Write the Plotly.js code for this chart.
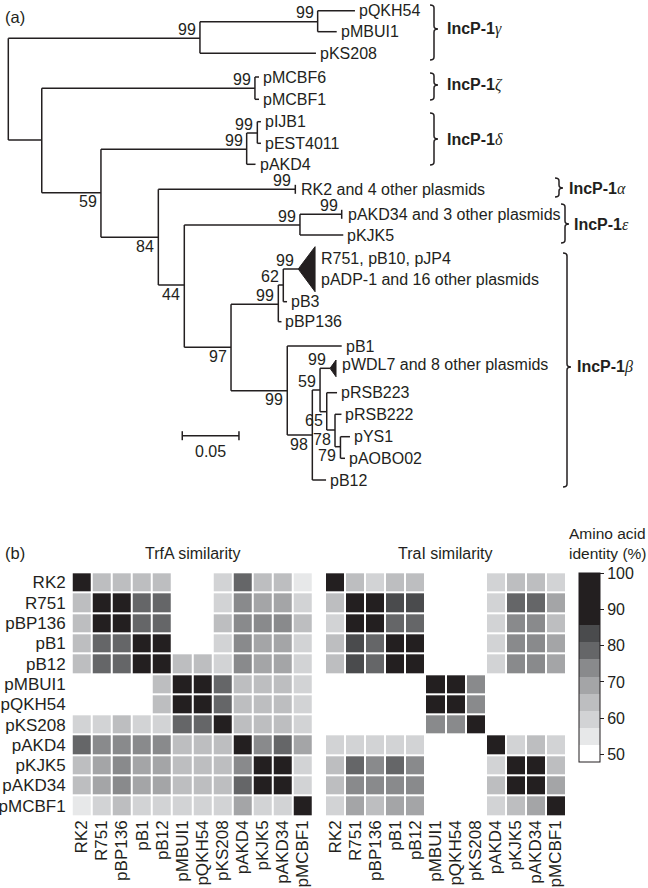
<!DOCTYPE html>
<html><head><meta charset="utf-8">
<script src="https://cdn.plot.ly/plotly-3.0.1.min.js"></script>
<style>body{margin:0;background:#fff}</style></head>
<body><div id="chart" style="width:648px;height:888px"></div>
<script>
// ---------------- DATA ----------------
// (a) tree: node id, parent, depth (substitutions/site from root), vertical row position
const treeNode   = ['root','g','g1','pQKH54','pMBUI1','pKS208','a','z','pMCBF6','pMCBF1','b','d','d1','pIJB1','pEST4011','pAKD4','c','RK2','e0','eps','pAKD34','pKJK5','e1','f','f62','tri1','pB3','pBP136','gB','pB1','h','i','tri2','j','pRSB223','k','pRSB222','l','pYS1','pAOBO02','pB12'];
const treeParent = [null,'root','g','g1','g1','g','root','a','z','z','a','b','d','d1','d1','d','b','c','c','e0','eps','eps','e0','e1','f','f62','f62','f','e1','gB','gB','h','i','i','j','j','k','k','l','l','h'];
const treeDepth  = [0,0.1690,0.2728,0.3057,0.2896,0.2713,0.0295,0.2175,0.2211,0.2211,0.0817,0.2102,0.2196,0.2228,0.2228,0.2180,0.1323,0.2531,0.1552,0.2572,0.2940,0.2954,0.1964,0.2381,0.2425,0.2557,0.2458,0.2409,0.2460,0.2940,0.2681,0.2749,0.2837,0.2808,0.2899,0.2881,0.2938,0.2929,0.3013,0.2969,0.2802];
const treeY      = [89,38.3,21.7,10.7,31.7,53.3,140,88.3,77,99.3,192.7,149.3,133,121.7,143.3,164.3,237.3,189.3,285,225,214.3,235,347.3,304.3,285,269,301.7,321.7,390.7,346,435,390,368.3,411.7,392.7,430,414.3,446.7,436.7,458.3,480];
// collapsed clades (triangles)
const triNode      = ['tri1','tri2'];
const triBaseDepth = [0.2705,0.2890];
const triTopY      = [246.7,360];
const triBottomY   = [291.7,376.7];
const triLabel     = ['R751, pB10, pJP4<br>pADP-1 and 16 other plasmids','pWDL7 and 8 other plasmids'];
// tips carrying a small bar (identical sequences)
const barTips = ['RK2','pAKD34'];
// leaf labels
const leafNode  = ['pQKH54','pMBUI1','pKS208','pMCBF6','pMCBF1','pIJB1','pEST4011','pAKD4','RK2','pAKD34','pKJK5','pB3','pBP136','pB1','pRSB223','pRSB222','pYS1','pAOBO02','pB12'];
const leafText  = ['pQKH54','pMBUI1','pKS208','pMCBF6','pMCBF1','pIJB1','pEST4011','pAKD4','RK2 and 4 other plasmids','pAKD34 and 3 other plasmids','pKJK5','pB3','pBP136','pB1','pRSB223','pRSB222','pYS1','pAOBO02','pB12'];
// bootstrap support
const bootNode  = ['g','g1','z','d','d1','b','c','RK2','e0','eps','pAKD34','e1','f','f62','tri1','gB','h','i','tri2','j','k','l'];
const bootValue = [99,99,99,99,99,59,84,99,44,99,99,97,99,62,99,99,98,59,99,65,78,79];
const bootSide  = ['up','up','up','up','up','down','down','up','down','up','up','down','up','up','up','down','down','up','up','down','down','down'];
// scale bar
const scaleBarStart = 0.1534, scaleBarLength = 0.05, scaleBarY = 435.7;
// clade brackets
const cladeName  = ['γ','ζ','δ','α','ε','β'];
const cladeTopY  = [5,73,113,178,204,253];
const cladeBotY  = [60,100,165,197,243,487];
const cladeTipY  = [29,85,139,188,224,367];

// (b) amino acid identity (%) matrices
const plasmids = ['RK2','R751','pBP136','pB1','pB12','pMBUI1','pQKH54','pKS208','pAKD4','pKJK5','pAKD34','pMCBF1'];
const trfA = [
 [95,65,65,65,65,null,null,60,78,65,65,55],
 [65,95,95,78,78,null,null,60,74,69,69,60],
 [65,95,95,78,78,null,null,65,74,74,74,65],
 [65,78,78,95,95,null,null,60,74,69,69,60],
 [65,78,78,95,95,65,65,60,74,69,69,60],
 [null,null,null,null,65,95,95,78,65,65,65,60],
 [null,null,null,null,65,95,95,78,65,65,65,60],
 [60,60,65,60,60,78,78,95,65,65,65,60],
 [78,74,74,74,74,65,65,65,95,74,78,69],
 [65,69,74,69,69,65,65,65,74,95,95,60],
 [65,69,74,69,69,65,65,65,78,95,95,60],
 [55,60,65,60,60,60,60,60,69,60,60,95]
];
const traI = [
 [95,65,60,65,65,null,null,null,60,65,65,60],
 [65,95,95,83,83,null,null,null,60,78,78,69],
 [60,95,95,78,78,null,null,null,60,74,74,65],
 [65,83,78,95,95,null,null,null,60,74,74,69],
 [65,83,78,95,95,null,null,null,60,74,74,69],
 [null,null,null,null,null,95,95,74,null,null,null,null],
 [null,null,null,null,null,95,95,74,null,null,null,null],
 [null,null,null,null,null,74,74,95,null,null,null,null],
 [60,60,60,60,60,null,null,null,95,60,65,60],
 [65,78,74,78,74,null,null,null,60,95,95,65],
 [65,74,74,74,74,null,null,null,65,95,95,69],
 [60,69,65,69,69,null,null,null,60,65,69,95]
];
const bandEdges  = [47.8,52.5,57.3,62.0,66.7,71.4,76.2,80.9,85.6,100];
const bandColors = ['#ffffff','#e7e8e9','#d2d3d5','#bdbec0','#a4a5a7','#898a8c','#656668','#4a4b4d','#231f20'];
const cbTicks = [50,60,70,80,90,100];

// ---------------- DRAWING ----------------
const TXT = '#231f20';
const FONT = 'Liberation Sans, Arial, Helvetica, sans-serif';
const W = 648, H = 888;
const PXU = 1134, ROOT_PX = 8.3;           // tree x scale (px per substitution)
const px2d = p => (p - ROOT_PX) / PXU;
const fx = p => p / W, fy = p => 1 - p / H;

const idx = {}; treeNode.forEach((n, i) => idx[n] = i);
const kids = {}; treeNode.forEach((n, i) => { const p = treeParent[i]; if (p !== null) (kids[p] = kids[p] || []).push(i); });

const lx = [], ly = [];
treeNode.forEach((n, i) => {
  const p = treeParent[i];
  if (p === null) return;
  lx.push(treeDepth[idx[p]], treeDepth[i], null); ly.push(treeY[i], treeY[i], null);
});
Object.keys(kids).forEach(p => {
  const ys = kids[p].map(k => treeY[k]);
  const d = treeDepth[idx[p]];
  lx.push(d, d, null); ly.push(Math.min(...ys), Math.max(...ys), null);
});
barTips.forEach(n => { const i = idx[n]; lx.push(treeDepth[i], treeDepth[i], null); ly.push(treeY[i] - 4.5, treeY[i] + 4.5, null); });

const traces = [];
traces.push({type:'scatter', mode:'lines', x:lx, y:ly, xaxis:'x', yaxis:'y', line:{color:TXT, width:1.5}, hoverinfo:'skip'});
triNode.forEach((n, t) => {
  const i = idx[n];
  traces.push({type:'scatter', mode:'lines', xaxis:'x', yaxis:'y', fill:'toself', fillcolor:TXT,
    x:[treeDepth[i], triBaseDepth[t], triBaseDepth[t], treeDepth[i]],
    y:[treeY[i], triTopY[t], triBottomY[t], treeY[i]], line:{color:TXT, width:1}, hoverinfo:'skip'});
});
traces.push({type:'scatter', mode:'lines', xaxis:'x', yaxis:'y', line:{color:TXT, width:1.5}, hoverinfo:'skip',
  x:[scaleBarStart, scaleBarStart+scaleBarLength, null, scaleBarStart, scaleBarStart, null, scaleBarStart+scaleBarLength, scaleBarStart+scaleBarLength],
  y:[scaleBarY, scaleBarY, null, scaleBarY-4.5, scaleBarY+4.5, null, scaleBarY-4.5, scaleBarY+4.5]});

// heatmaps
const cs = [];
const zr = bandEdges[bandEdges.length-1] - bandEdges[0];
bandColors.forEach((c, k) => {
  cs.push([(bandEdges[k]-bandEdges[0])/zr, c]);
  cs.push([(bandEdges[k+1]-bandEdges[0])/zr, c]);
});
traces.push({type:'heatmap', x:plasmids, y:plasmids, z:trfA, coloraxis:'coloraxis', xgap:2, ygap:2, xaxis:'x2', yaxis:'y2', hoverongaps:false});
traces.push({type:'heatmap', x:plasmids, y:plasmids, z:traI, coloraxis:'coloraxis', xgap:2, ygap:2, xaxis:'x3', yaxis:'y2', hoverongaps:false});

// annotations
const ann = [];
const tf = (s) => ({family:FONT, size:s, color:TXT});
leafNode.forEach((n, k) => {
  const i = idx[n];
  ann.push({xref:'x', yref:'y', x:treeDepth[i], y:treeY[i], text:leafText[k], showarrow:false,
    xanchor:'left', yanchor:'middle', xshift: barTips.includes(n) ? 4 : 2, font:tf(16)});
});
triNode.forEach((n, t) => {
  const i = idx[n];
  ann.push({xref:'x', yref:'y', x:triBaseDepth[t], y:(triTopY[t]+triBottomY[t])/2, text:triLabel[t], showarrow:false,
    xanchor:'left', yanchor:'middle', align:'left', xshift:4, yshift: t===0 ? 0 : 4, font:tf(16)});
});
bootNode.forEach((n, k) => {
  const i = idx[n];
  ann.push({xref:'x', yref:'y', x:treeDepth[i], y:treeY[i], text:String(bootValue[k]), showarrow:false,
    xanchor:'right', yanchor:'middle', xshift:-2, yshift: bootSide[k]==='up' ? 9 : -9, font:tf(16)});
});
ann.push({xref:'x', yref:'y', x:scaleBarStart+scaleBarLength/2, y:scaleBarY, yshift:-16, text:'0.05', showarrow:false, font:tf(16)});

// brackets
const shapes = [];
const bracketX = [430,430,430,555,561,563];
const labelShift = [7,7,7,4,3,4];
cladeName.forEach((g, k) => {
  const x0 = bracketX[k], x1 = x0 + 4, xt = x0 + 8, r = 3;
  const y0 = cladeTopY[k], y1 = cladeBotY[k], ym = cladeTipY[k];
  const X = p => px2d(p);
  const path = `M ${X(x0)},${y0} Q ${X(x1)},${y0} ${X(x1)},${y0+r} L ${X(x1)},${ym-r} Q ${X(x1)},${ym} ${X(xt)},${ym} Q ${X(x1)},${ym} ${X(x1)},${ym+r} L ${X(x1)},${y1-r} Q ${X(x1)},${y1} ${X(x0)},${y1}`;
  shapes.push({type:'path', xref:'x', yref:'y', path, line:{color:TXT, width:1.5}});
  ann.push({xref:'x', yref:'y', x:X(xt), y:ym, xanchor:'left', yanchor:'middle', xshift:labelShift[k], showarrow:false,
    text:`<b>IncP-1</b><span style="font-family:'Liberation Serif';font-style:italic">${g}</span>`, font:tf(16)});
});

// panel labels & titles
ann.push({xref:'paper', yref:'paper', x:fx(3), y:fy(17), xanchor:'left', yanchor:'middle', text:'(a)', showarrow:false, font:tf(16.5)});
ann.push({xref:'paper', yref:'paper', x:fx(3), y:fy(553), xanchor:'left', yanchor:'middle', text:'(b)', showarrow:false, font:tf(16.5)});
ann.push({xref:'paper', yref:'paper', x:fx(192), y:fy(553), xanchor:'center', yanchor:'middle', text:'TrfA similarity', showarrow:false, font:tf(16)});
ann.push({xref:'paper', yref:'paper', x:fx(445), y:fy(553), xanchor:'center', yanchor:'middle', text:'TraI similarity', showarrow:false, font:tf(16)});
ann.push({xref:'paper', yref:'paper', x:fx(567), y:fy(543), xanchor:'left', yanchor:'middle', align:'left', text:'Amino acid<br>identity (%)', showarrow:false, font:tf(15.5)});

const hmAxis = {type:'category', showgrid:false, zeroline:false, showline:false, ticks:'', fixedrange:true, tickfont:tf(17)};
const layout = {
  width:W, height:H, margin:{l:0,r:0,t:0,b:0}, showlegend:false,
  paper_bgcolor:'#fff', plot_bgcolor:'rgba(0,0,0,0)', font:{family:FONT, color:TXT},
  xaxis:{domain:[0,1], range:[px2d(0), px2d(W)], visible:false, fixedrange:true},
  yaxis:{domain:[0,1], range:[H,0], visible:false, fixedrange:true},
  xaxis2:Object.assign({}, hmAxis, {domain:[fx(71.7), fx(312.7)], anchor:'y2', tickangle:-90}),
  xaxis3:Object.assign({}, hmAxis, {domain:[fx(325), fx(566)], anchor:'y2', tickangle:-90}),
  yaxis2:Object.assign({}, hmAxis, {domain:[fy(816), fy(572.3)], anchor:'x2', autorange:'reversed', ticklabelstandoff:5}),
  coloraxis:{cmin:bandEdges[0], cmax:bandEdges[bandEdges.length-1], colorscale:cs,
    colorbar:{x:fx(579), xanchor:'left', xpad:0, y:fy(573.3), yanchor:'top', ypad:0, lenmode:'pixels', len:189.4,
      thickness:21, outlinewidth:1, outlinecolor:TXT, tickvals:cbTicks, ticks:'outside', ticklen:4, tickcolor:TXT,
      tickfont:tf(16), borderwidth:0}},
  annotations:ann, shapes:shapes
};
Plotly.newPlot('chart', traces, layout, {staticPlot:true});
</script></body></html>
